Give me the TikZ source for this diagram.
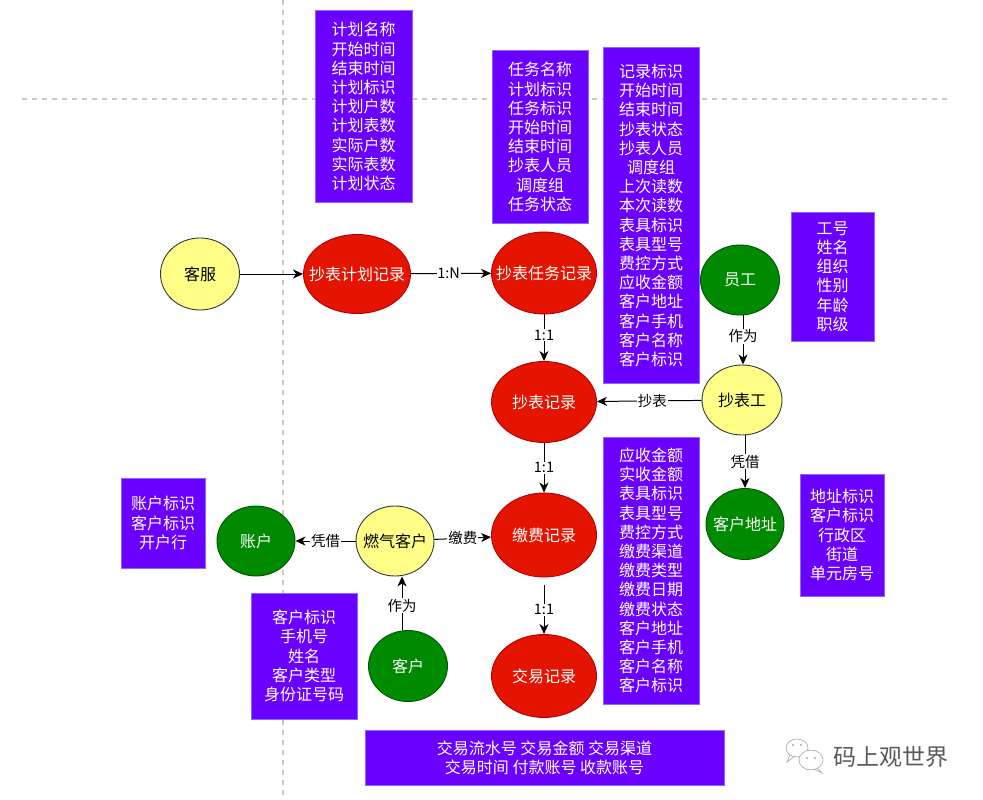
\documentclass[tikz,border=0pt]{standalone}
\usepackage{fontspec}
\setmainfont{Noto Sans CJK SC}
\usetikzlibrary{arrows.meta,shapes.geometric}
\definecolor{purf}{HTML}{6A00FF}
\definecolor{purb}{HTML}{8A66FF}
\definecolor{redf}{HTML}{E51400}
\definecolor{redb}{HTML}{B20000}
\definecolor{grnf}{HTML}{008A00}
\definecolor{grnb}{HTML}{005700}
\definecolor{yelf}{HTML}{FFFF88}
\definecolor{yelb}{HTML}{36393D}
\definecolor{gridc}{HTML}{C8C8C8}
\newcommand\zb[1]{\makebox[0pt]{#1}}
\tikzset{
  ent/.style={ellipse, line width=0.9pt, inner sep=0pt, font=\fontsize{16}{19.2}\selectfont},
  redent/.style={ent, fill=redf, draw=redb, text=white},
  grnent/.style={ent, fill=grnf, draw=grnb, text=white},
  yelent/.style={ent, fill=yelf, draw=yelb, text=black},
  attr/.style={rectangle, fill=purf, draw=purb, line width=1pt, text=white, align=center, inner sep=0pt, font=\fontsize{16}{19.2}\selectfont},
  conn/.style={line width=1pt, -{Stealth[length=10pt,width=9pt,inset=3pt]}},
  lbl/.style={fill=white, inner sep=0.8pt, text=black, font=\fontsize{14.5}{14.5}\selectfont},
  gridline/.style={gridc, line width=1.4pt, dash pattern=on 5pt off 5pt}
}
\begin{document}
\begin{tikzpicture}[x=1pt, y=-1pt]
\useasboundingbox[fill=white] (0,0) rectangle (983,800);
% background dashed guide lines
\draw[gridline] (22,99) -- (950,99);
\draw[gridline] (283,0) -- (283,800);

% attribute boxes
\node[attr, minimum width=97pt, minimum height=191pt] (ajh) at (363.5,106.5) {计划名称\\开始时间\\结束时间\\计划标识\\计划户数\\计划表数\\实际户数\\实际表数\\计划状态};
\node[attr, minimum width=96pt, minimum height=172pt] (arw) at (540,137) {任务名称\\计划标识\\任务标识\\开始时间\\结束时间\\抄表人员\\调度组\\任务状态};
\node[attr, minimum width=96pt, minimum height=335pt] (acb) at (651,215.5) {记录标识\\开始时间\\结束时间\\抄表状态\\抄表人员\\调度组\\上次读数\\本次读数\\表具标识\\表具型号\\费控方式\\应收金额\\客户地址\\客户手机\\客户名称\\客户标识};
\node[attr, minimum width=96pt, minimum height=267pt] (ajf) at (651,570.5) {应收金额\\实收金额\\表具标识\\表具型号\\费控方式\\缴费渠道\\缴费类型\\缴费日期\\缴费状态\\客户地址\\客户手机\\客户名称\\客户标识};
\node[attr, minimum width=83pt, minimum height=129pt] (ayg) at (832.5,276.5) {工号\\姓名\\组织\\性别\\年龄\\职级};
\node[attr, minimum width=84pt, minimum height=122pt] (adz) at (842,535) {地址标识\\客户标识\\行政区\\街道\\单元房号};
\node[attr, minimum width=84pt, minimum height=90pt] (azh) at (163,523) {账户标识\\客户标识\\开户行};
\node[attr, minimum width=106pt, minimum height=126pt] (akh) at (304,656) {客户标识\\手机号\\姓名\\客户类型\\身份证号码};
\node[attr, minimum width=359pt, minimum height=55pt] (ajy) at (544.5,757.5) {交易流水号 交易金额 交易渠道\\交易时间 付款账号 收款账号};

% entities
\node[yelent, minimum width=79pt, minimum height=72pt] (kf) at (200,274) {\zb{客服}};
\node[redent, minimum width=107pt, minimum height=79pt] (jh) at (357,274) {\zb{抄表计划记录}};
\node[redent, minimum width=105pt, minimum height=82pt] (rw) at (544,273) {\zb{抄表任务记录}};
\node[redent, minimum width=105pt, minimum height=81pt] (cb) at (544,402) {\zb{抄表记录}};
\node[redent, minimum width=105pt, minimum height=84pt] (jf) at (544,535) {\zb{缴费记录}};
\node[redent, minimum width=105pt, minimum height=83pt] (jy) at (544,676) {\zb{交易记录}};
\node[grnent, minimum width=79pt, minimum height=70pt] (yg) at (740,280) {\zb{员工}};
\node[yelent, minimum width=80pt, minimum height=70pt] (cbg) at (742,400) {\zb{抄表工}};
\node[grnent, minimum width=78pt, minimum height=71pt] (dz) at (745,524) {\zb{客户地址}};
\node[grnent, minimum width=78pt, minimum height=70pt] (zh) at (256,541) {\zb{账户}};
\node[yelent, minimum width=78pt, minimum height=70pt] (rq) at (395,541) {\zb{燃气客户}};
\node[grnent, minimum width=79pt, minimum height=71pt] (kh) at (408,666) {\zb{客户}};

% connectors
\draw[conn] (kf) -- (jh);
\draw[conn] (jh) -- node[lbl, pos=0.47] {1:N} (rw);
\draw[conn] (rw) -- node[lbl, pos=0.45] {1:1} (cb);
\draw[conn] (cb) -- node[lbl] {1:1} (jf);
\draw[conn] ([yshift=-8pt]jf.south) -- node[lbl] {1:1} (jy);
\draw[conn] ([xshift=3pt]yg.south) -- node[lbl, pos=0.42] {作为} ([xshift=1pt]cbg.north);
\draw[conn] (cbg) -- node[lbl, pos=0.47] {抄表} (cb);
\draw[conn] ([xshift=3pt]cbg.south) -- node[lbl] {凭借} (dz);
\draw[conn] (rq) -- node[lbl] {凭借} (zh);
\draw[conn] (rq) -- node[lbl] {缴费} (jf);
\draw[conn] ([xshift=-6pt]kh.north) -- node[lbl, pos=0.45] {作为} ([xshift=7pt]rq.south);

% footer logo and name
\begin{scope}[draw=gray!70, line width=0.6pt]
\draw[fill=white] (797,748) ellipse [x radius=11, y radius=9];
\draw (790,755) -- (787,762) -- (795,756);
\draw[fill=white] (811,760) ellipse [x radius=12, y radius=10];
\draw (817,768) -- (822,773) -- (814,769);
\fill[gray!70] (793,745) circle (1.1) (801,745) circle (1.1) (807,758) circle (1.1) (815,758) circle (1.1);
\end{scope}
\node[text=black!65, font=\fontsize{23}{23}\selectfont] (brand) at (891,757) {码上观世界};
\end{tikzpicture}
\end{document}
